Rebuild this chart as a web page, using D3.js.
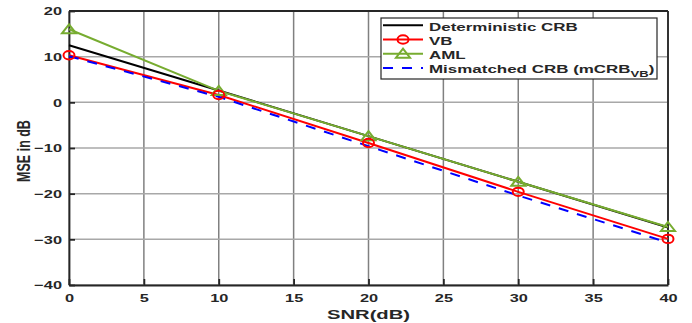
<!DOCTYPE html>
<html>
<head>
<meta charset="utf-8">
<script src="https://cdn.jsdelivr.net/npm/d3@7"></script>
<style>
  body { margin: 0; background: #fff; }
  text { font-family: "Liberation Sans", Arial, sans-serif; font-weight: bold; fill: #262626; }
</style>
</head>
<body>
<svg id="chart"></svg>
<script>
// SNR points (dB)
const snr = [0, 10, 20, 30, 40];
// MSE in dB per method
const detCrb = [12.5, 2.6, -7.4, -17.4, -27.4];
const vb = [10.3, 1.6, -8.9, -19.6, -29.9];
const aml = [16, 2.5, -7.4, -17.4, -27.3];
const mCrb = [10.1, 1.2, -9.6, -20.4, -30.7];

const xTicks = [0, 5, 10, 15, 20, 25, 30, 35, 40];
const yTicks = [-40, -30, -20, -10, 0, 10, 20];

const width = 692, height = 323;
const margin = { top: 11, right: 24, bottom: 38, left: 69 };
const w = width - margin.left - margin.right;
const h = height - margin.top - margin.bottom;
// the source figure is stretched horizontally, so glyphs get stretched too
const SX = 1.42;
const axisColor = '#262626';

const svg = d3.select('#chart')
  .attr('width', width)
  .attr('height', height);

const chart = svg.append('g')
  .attr('transform', `translate(${margin.left},${margin.top})`);

const x = d3.scaleLinear().domain([0, 40]).range([0, w]);
const y = d3.scaleLinear().domain([-40, 20]).range([h, 0]);

// grid
chart.append('g').selectAll('line')
  .data(xTicks)
  .join('line')
  .attr('x1', (d) => x(d)).attr('x2', (d) => x(d))
  .attr('y1', 0).attr('y2', h)
  .attr('stroke', '#808080').attr('stroke-width', 1.5);
chart.append('g').selectAll('line')
  .data(yTicks)
  .join('line')
  .attr('x1', 0).attr('x2', w)
  .attr('y1', (d) => y(d)).attr('y2', (d) => y(d))
  .attr('stroke', '#a8a8a8').attr('stroke-width', 1.5);

// axes (ticks inward, MATLAB style)
const xAxis = d3.axisBottom(x).tickValues(xTicks).tickSize(-6).tickPadding(9).tickSizeOuter(0);
const yAxis = d3.axisLeft(y).tickValues(yTicks).tickSize(-6).tickSizeOuter(0);

chart.append('g')
  .attr('transform', `translate(0,${h})`)
  .call(xAxis)
  .call((g) => g.selectAll('text')
    .style('font-size', '11.5px')
    .attr('fill', axisColor)
    .attr('transform', `scale(${SX},1)`))
  .call((g) => g.selectAll('line, path').attr('stroke', axisColor).attr('stroke-width', 1.8));

chart.append('g')
  .call(yAxis)
  .call((g) => g.selectAll('text')
    .style('font-size', '11.5px')
    .attr('fill', axisColor)
    .attr('x', -7 / SX)
    .attr('transform', `scale(${SX},1)`))
  .call((g) => g.selectAll('line, path').attr('stroke', axisColor).attr('stroke-width', 1.8));

// top and right box edges
chart.append('line').attr('x1', 0).attr('x2', w).attr('y1', 0).attr('y2', 0)
  .attr('stroke', axisColor).attr('stroke-width', 1.8);
chart.append('line').attr('x1', w).attr('x2', w).attr('y1', 0).attr('y2', h)
  .attr('stroke', axisColor).attr('stroke-width', 1.8);

const line = d3.line()
  .x((d, i) => x(snr[i]))
  .y((d) => y(d));

const series = [
  { name: 'det', values: detCrb, color: '#000000', dash: null, marker: null },
  { name: 'aml', values: aml, color: '#77ac30', dash: null, marker: 'tri' },
  { name: 'vb', values: vb, color: '#ff0000', dash: null, marker: 'circle' },
  { name: 'mcrb', values: mCrb, color: '#0000ff', dash: '10,9', marker: null },
];

series.forEach((s) => {
  chart.append('path')
    .datum(s.values)
    .attr('fill', 'none')
    .attr('stroke', s.color)
    .attr('stroke-width', 2)
    .attr('stroke-dasharray', s.dash)
    .attr('d', line);
});

function drawMarker(g, type, cx, cy, color) {
  if (type === 'circle') {
    g.append('ellipse').attr('cx', cx).attr('cy', cy).attr('rx', 5.5).attr('ry', 4.2)
      .attr('fill', 'none').attr('stroke', color).attr('stroke-width', 2);
  } else if (type === 'tri') {
    g.append('path').attr('d', 'M0,-5L7,4L-7,4Z')
      .attr('transform', `translate(${cx},${cy})`)
      .attr('fill', 'none').attr('stroke', color).attr('stroke-width', 2);
  }
}

series.filter((s) => s.marker).forEach((s) => {
  s.values.forEach((v, i) => drawMarker(chart, s.marker, x(snr[i]), y(v), s.color));
});

// axis titles
svg.append('text')
  .attr('transform', `translate(${margin.left + w / 2},319) scale(1.5,1)`)
  .attr('text-anchor', 'middle')
  .style('font-size', '13.5px')
  .text('SNR(dB)');

svg.append('text')
  .attr('transform', `translate(30,151) scale(${SX},1) rotate(-90)`)
  .attr('text-anchor', 'middle')
  .style('font-size', '12.5px')
  .text('MSE in dB');

// legend
const legend = svg.append('g').attr('transform', 'translate(381,18)');
legend.append('rect')
  .attr('width', 276).attr('height', 61)
  .attr('fill', '#fff').attr('stroke', axisColor).attr('stroke-width', 1.2);

const legendItems = [
  { label: 'Deterministic CRB', s: series[0] },
  { label: 'VB', s: series[2] },
  { label: 'AML', s: series[1] },
  { label: 'Mismatched CRB (mCRB', s: series[3], sub: 'VB' },
];

legendItems.forEach((d, i) => {
  const ly = 7.3 + i * 14.2;
  legend.append('line')
    .attr('x1', 2).attr('x2', 42).attr('y1', ly).attr('y2', ly)
    .attr('stroke', d.s.color).attr('stroke-width', 2)
    .attr('stroke-dasharray', d.s.dash);
  if (d.s.marker) drawMarker(legend, d.s.marker, 22, ly, d.s.color);
  const t = legend.append('text')
    .attr('transform', `translate(48,${ly + 5.5}) scale(1.45,1)`)
    .style('font-size', '11.7px')
    .text(d.label);
  if (d.sub) {
    t.append('tspan').attr('dy', 3.5).style('font-size', '9px').text(d.sub);
    t.append('tspan').attr('dy', -3.5).text(')');
  }
});
</script>
</body>
</html>
